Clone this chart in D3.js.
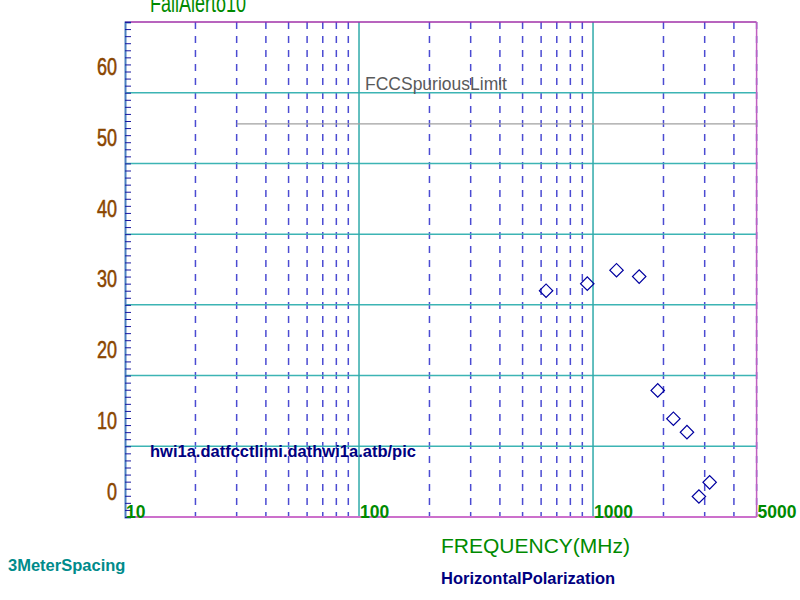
<!DOCTYPE html>
<html>
<head>
<meta charset="utf-8">
<script src="https://cdn.jsdelivr.net/npm/d3@7"></script>
<style>
  body { margin: 0; background: #fff; }
  text { font-family: "Liberation Sans", Arial, sans-serif; }
</style>
</head>
<body>
<svg id="emission-chart"></svg>
<script>
// Radiated emission plot: harmonic levels vs frequency on a log axis, with the FCC limit line.

const harmonicFreqs = [630, 945, 1260, 1575, 1890, 2205, 2520, 2835, 3150];
const harmonicLevels = [32.0, 33.0, 34.9, 34.0, 17.9, 13.9, 12.0, 2.9, 4.9];

const limitFreqs = [30, 5000];
const limitLevels = [55.6, 55.6];

const yLabelValues = [0, 10, 20, 30, 40, 50, 60];
const gridLevels = [10, 20, 30, 40, 50, 60];
const xLabelValues = [10, 100, 1000, 5000];
const decadeFreqs = [100, 1000];
const minorFreqs = [20, 30, 40, 50, 60, 70, 80, 90,
                    200, 300, 400, 500, 600, 700, 800, 900,
                    2000, 3000, 4000, 5000];

function createEmissionChart() {
    const svg = d3.select("#emission-chart")
        .attr("width", 800)
        .attr("height", 600);

    const x = d3.scaleLog()
        .domain([10, 5000])
        .range([125, 756.6]);

    const y = d3.scaleLinear()
        .domain([0, 70])
        .range([517, 22]);

    const [x0, x1] = x.range();
    const [yb, yt] = y.range();

    // dashed minor frequency lines
    svg.append("g")
        .selectAll("line")
        .data(minorFreqs)
        .enter().append("line")
        .attr("x1", d => x(d)).attr("x2", d => x(d))
        .attr("y1", yt).attr("y2", yb)
        .attr("stroke", "#4b4bd2")
        .attr("stroke-width", 1.5)
        .attr("stroke-dasharray", "7,7");

    // horizontal grid
    svg.append("g")
        .selectAll("line")
        .data(gridLevels)
        .enter().append("line")
        .attr("x1", x0).attr("x2", x1)
        .attr("y1", d => y(d)).attr("y2", d => y(d))
        .attr("stroke", "#3cb4b4")
        .attr("stroke-width", 1.5);

    // decade lines
    svg.append("g")
        .selectAll("line")
        .data(decadeFreqs)
        .enter().append("line")
        .attr("x1", d => x(d)).attr("x2", d => x(d))
        .attr("y1", yt).attr("y2", yb)
        .attr("stroke", "#30aaaa")
        .attr("stroke-width", 1.5);

    // frame
    svg.append("line")
        .attr("x1", x0).attr("x2", x1).attr("y1", yt).attr("y2", yt)
        .attr("stroke", "#a030a8").attr("stroke-width", 1.5);
    svg.append("line")
        .attr("x1", x0).attr("x2", x1).attr("y1", yb).attr("y2", yb)
        .attr("stroke", "#cc70cc").attr("stroke-width", 2);
    svg.append("line")
        .attr("x1", x1).attr("x2", x1).attr("y1", yt).attr("y2", yb)
        .attr("stroke", "#c060c0").attr("stroke-width", 1.5);

    // left axis with unit ticks
    const yAxis = svg.append("g")
        .attr("transform", `translate(${x0},0)`)
        .call(d3.axisRight(y).tickValues(d3.range(0, 71)).tickSize(6).tickFormat(""));
    yAxis.select(".domain").attr("stroke", "#4a80c0").attr("stroke-width", 2);
    yAxis.selectAll(".tick line").attr("stroke", "#1a1aa0");

    // level labels sit above their grid lines, in a tall narrow face
    svg.append("g")
        .selectAll("text")
        .data(yLabelValues)
        .enter().append("text")
        .attr("transform", d => `translate(117,${y(d) - 17.5}) scale(1,1.28)`)
        .attr("text-anchor", "end")
        .attr("font-size", 18)
        .attr("stroke", "#8a4600")
        .attr("stroke-width", 0.4)
        .attr("fill", "#8a4600")
        .text(d => d);

    svg.append("g")
        .selectAll("text")
        .data(xLabelValues)
        .enter().append("text")
        .attr("x", d => x(d) + 1)
        .attr("y", yb + 1)
        .attr("font-size", 17.5)
        .attr("font-weight", "bold")
        .attr("fill", "#008a00")
        .text(d => d);

    // limit line
    const limit = limitFreqs.map((f, i) => [f, limitLevels[i]]);
    svg.append("path")
        .datum(limit)
        .attr("fill", "none")
        .attr("stroke", "#a0a0a0")
        .attr("stroke-width", 1.2)
        .attr("d", d3.line().x(d => x(d[0])).y(d => y(d[1])));

    // measured harmonics
    const points = harmonicFreqs.map((f, i) => [f, harmonicLevels[i]]);
    svg.append("g")
        .selectAll("path")
        .data(points)
        .enter().append("path")
        .attr("transform", d => `translate(${x(d[0])},${y(d[1])}) rotate(45)`)
        .attr("d", d3.symbol(d3.symbolSquare, 90))
        .attr("fill", "none")
        .attr("stroke", "#0000a0")
        .attr("stroke-width", 1.2);

    // annotations
    svg.append("text")
        .attr("transform", "translate(150,12) scale(1,1.4)")
        .attr("font-size", 18).attr("fill", "#008a00")
        .text("FailAlerto10");
    svg.append("text")
        .attr("x", 365).attr("y", 90)
        .attr("font-size", 17.5).attr("fill", "#5a5a5a")
        .text("FCCSpuriousLimit");
    svg.append("text")
        .attr("x", 150).attr("y", 457)
        .attr("font-size", 16.5).attr("font-weight", "bold").attr("fill", "#000080")
        .text("hwi1a.datfcctlimi.dathwi1a.atb/pic");
    svg.append("text")
        .attr("x", 441).attr("y", 553)
        .attr("font-size", 21).attr("fill", "#008a00")
        .text("FREQUENCY(MHz)");
    svg.append("text")
        .attr("x", 441).attr("y", 584)
        .attr("font-size", 16.5).attr("font-weight", "bold").attr("fill", "#000080")
        .text("HorizontalPolarization");
    svg.append("text")
        .attr("x", 8).attr("y", 571)
        .attr("font-size", 16.5).attr("font-weight", "bold").attr("fill", "#008b8b")
        .text("3MeterSpacing");
}

document.addEventListener("DOMContentLoaded", createEmissionChart);
</script>
</body>
</html>
